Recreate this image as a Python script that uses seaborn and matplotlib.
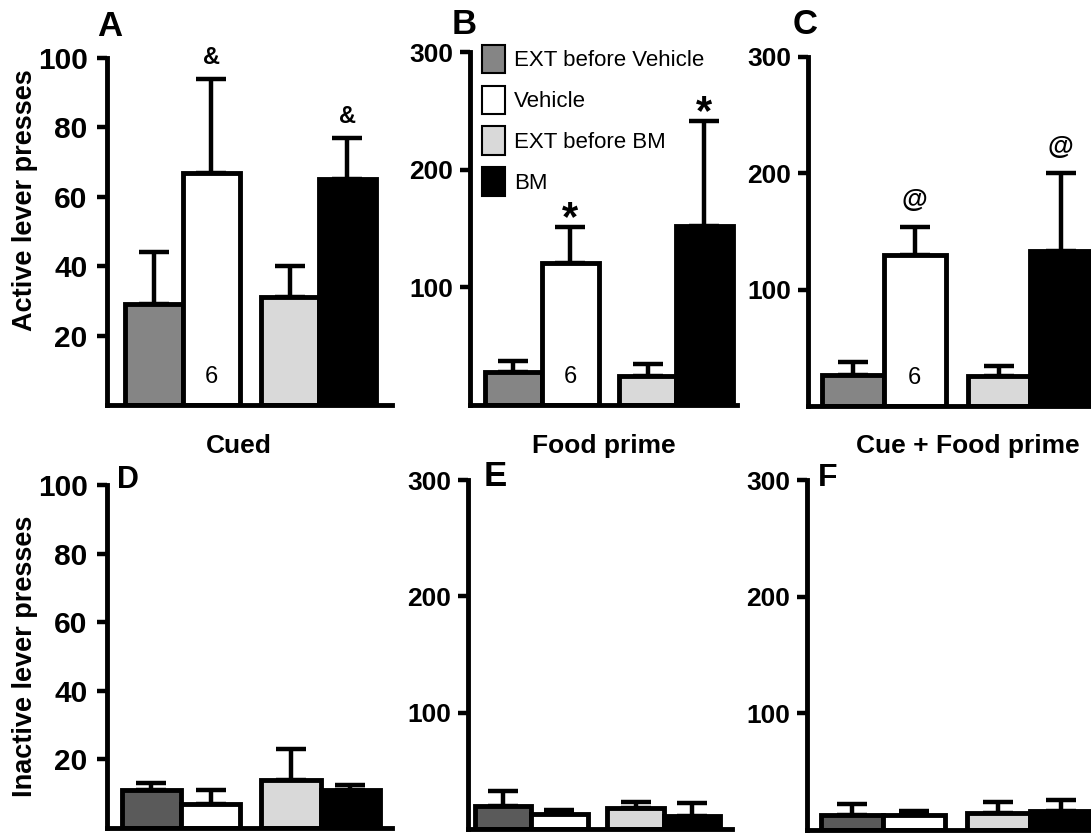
import matplotlib
matplotlib.use("Agg")
import matplotlib.pyplot as plt
import matplotlib.transforms as mtransforms
from matplotlib.patches import Patch
import seaborn as sns
import pandas as pd

# ---------------- data ----------------
groups = ["EXT before Vehicle", "Vehicle", "EXT before BM", "BM"]
pair_of_group = ["Vehicle", "Vehicle", "BM", "BM"]
phase_of_group = ["EXT", "Test", "EXT", "Test"]

# Active lever presses (mean, SEM)
cued_active_mean = [29, 67, 31, 65]
cued_active_sem = [15, 27, 9, 12]
food_active_mean = [28, 121, 25, 152]
food_active_sem = [9, 30, 10, 89]
cuefood_active_mean = [27, 130, 26, 133]
cuefood_active_sem = [11, 24, 8, 67]

# Inactive lever presses (mean, SEM)
cued_inactive_mean = [11, 7, 14, 11]
cued_inactive_sem = [2, 4, 9, 1.5]
food_inactive_mean = [20, 13, 18, 11]
food_inactive_sem = [13, 3, 5, 11]
cuefood_inactive_mean = [13, 13, 15, 16]
cuefood_inactive_sem = [9, 3, 9, 10]

condition_titles = ["Cued", "Food prime", "Cue + Food prime"]
panel_letters = ["A", "B", "C", "D", "E", "F"]
ylabel_active = "Active lever presses"
ylabel_inactive = "Inactive lever presses"
n_label = "6"
sig_marks_top = [["", "&", "", "&"], ["", "*", "", "*"], ["", "@", "", "@"]]

# ---------------- style ----------------
sns.set_theme(style="ticks", rc={"text.color": "black", "axes.labelcolor": "black",
                                 "xtick.color": "black", "ytick.color": "black",
                                 "axes.edgecolor": "black"})
plt.rcParams["font.family"] = ["Liberation Sans", "DejaVu Sans"]

colors_top = ["#858585", "#ffffff", "#d9d9d9", "#000000"]
colors_bottom = ["#5a5a5a", "#ffffff", "#d9d9d9", "#000000"]

W, H = 1091, 833
fig = plt.figure(figsize=(W / 100, H / 100), dpi=100)


def px_axes(left, right, top, bottom):
    return fig.add_axes([left / W, 1 - bottom / H, (right - left) / W, (bottom - top) / H])


def draw_panel(ax, means, sems, colors, ylim, yticks, xlim, marks=None, show_n=False,
               mark_sizes=None, tick_size=19, tick_pad=5):
    df = pd.DataFrame({"pair": pair_of_group, "phase": phase_of_group, "value": means})
    sns.barplot(data=df, x="pair", y="value", hue="phase", order=["Vehicle", "BM"],
                hue_order=["EXT", "Test"], width=0.85, errorbar=None, legend=False,
                palette=["#888888", "#ffffff"], saturation=1, edgecolor="black",
                linewidth=3.5, ax=ax)
    bars = sorted(ax.patches, key=lambda p: p.get_x())
    for i, p in enumerate(bars):
        p.set_facecolor(colors[i])
        p.set_zorder(2)
        xc = p.get_x() + p.get_width() / 2
        ax.errorbar([xc], [means[i]], yerr=[[0], [sems[i]]], fmt="none", ecolor="black",
                    elinewidth=3.2, capsize=11, capthick=3.2, zorder=1.5, clip_on=False)
        if marks and marks[i]:
            fs, off = mark_sizes
            ax.annotate(marks[i], (xc, means[i] + sems[i]), xytext=(0, off),
                        textcoords="offset points", ha="center", va="baseline",
                        fontsize=fs, fontweight="bold", annotation_clip=False)
    if show_n:
        p = bars[1]
        trans = mtransforms.blended_transform_factory(ax.transData, ax.transAxes)
        ax.text(p.get_x() + p.get_width() / 2, 0.08, n_label, transform=trans,
                ha="center", va="center", fontsize=17, zorder=5)
    ax.set_ylim(*ylim)
    ax.set_xlim(*xlim)
    ax.set_yticks(yticks)
    ax.set_xticks([])
    ax.set_xlabel("")
    ax.set_ylabel("")
    sns.despine(ax=ax)
    for s in ["left", "bottom"]:
        ax.spines[s].set_linewidth(3.5)
        ax.spines[s].set_color("black")
        ax.spines[s].set_capstyle("projecting")
    ax.tick_params(axis="y", direction="out", length=7, width=3.2, pad=tick_pad,
                   labelsize=tick_size, colors="black")
    for lab in ax.get_yticklabels():
        lab.set_fontweight("bold")
    ax.patch.set_alpha(0)


axA = px_axes(107, 392, 58, 405)
axB = px_axes(470, 737, 52, 405)
axC = px_axes(808, 1091, 57, 406)
axD = px_axes(107, 392, 485, 828)
axE = px_axes(468, 732, 480, 829)
axF = px_axes(807, 1091, 480, 830)

draw_panel(axA, cued_active_mean, cued_active_sem, colors_top, (0, 100), [20, 40, 60, 80, 100],
           (-0.555, 1.54), marks=sig_marks_top[0], show_n=True, mark_sizes=(17, 11),
           tick_size=21.5, tick_pad=7)
draw_panel(axB, food_active_mean, food_active_sem, colors_top, (0, 300), [100, 200, 300],
           (-0.537, 1.455), marks=sig_marks_top[1], show_n=True, mark_sizes=(30, -2))
draw_panel(axC, cuefood_active_mean, cuefood_active_sem, colors_top, (0, 300), [100, 200, 300],
           (-0.52, 1.42), marks=sig_marks_top[2], show_n=True, mark_sizes=(19, 14))
draw_panel(axD, cued_inactive_mean, cued_inactive_sem, colors_bottom, (0, 100),
           [20, 40, 60, 80, 100], (-0.53, 1.51), tick_size=21.5, tick_pad=7)
draw_panel(axE, food_inactive_mean, food_inactive_sem, colors_bottom, (0, 300), [100, 200, 300],
           (-0.478, 1.516))
draw_panel(axF, cuefood_inactive_mean, cuefood_inactive_sem, colors_bottom, (0, 300),
           [100, 200, 300], (-0.52, 1.42))

# legend in panel B
handles = [Patch(facecolor=c, edgecolor="black", linewidth=1.5) for c in colors_top]
axB.legend(handles, groups, loc="upper left", bbox_to_anchor=(0.045, 1.02), frameon=False,
           fontsize=16, handlelength=1.05, handleheight=1.6, handletextpad=0.4,
           labelspacing=0.55, borderpad=0, borderaxespad=0)

# condition titles
for txt, xc in zip(condition_titles, [239, 604, 968]):
    fig.text(xc / W, 1 - 446 / H, txt, ha="center", va="center", fontsize=19,
             fontweight="bold")

# panel letters
letter_pos = [(110, 27, 25), (464, 24, 25), (805, 25, 25),
              (128, 480, 22), (495, 476, 25), (828, 478, 23)]
for L, (x, y, s) in zip(panel_letters, letter_pos):
    fig.text(x / W, 1 - y / H, L, ha="center", va="center", fontsize=s, fontweight="bold")

# y labels
fig.text(25 / W, 1 - 200 / H, ylabel_active, rotation=90, ha="center", va="center",
         fontsize=19.5, fontweight="bold")
fig.text(25 / W, 1 - 656 / H, ylabel_inactive, rotation=90, ha="center", va="center",
         fontsize=19.5, fontweight="bold")

fig.savefig("out.png", dpi=100, facecolor="white")
